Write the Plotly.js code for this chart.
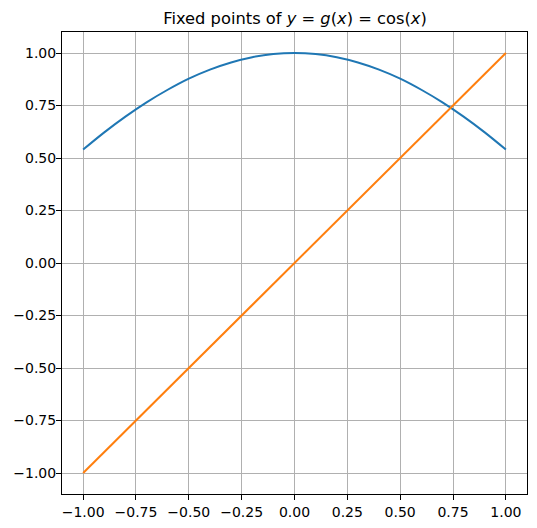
<!DOCTYPE html>
<html>
<head>
<meta charset="utf-8">
<script src="https://cdn.plot.ly/plotly-3.0.1.min.js"></script>
<style>html,body{margin:0;padding:0;background:#fff;}#chart{width:537px;height:528px;}</style>
</head>
<body>
<div id="chart"></div>
<script>
const gX = [-1.0,-0.9,-0.8,-0.7,-0.6,-0.5,-0.4,-0.3,-0.2,-0.1,0.0,0.1,0.2,0.3,0.4,0.5,0.6,0.7,0.8,0.9,1.0];
const gY = [0.540,0.622,0.697,0.765,0.825,0.878,0.921,0.955,0.980,0.995,1.000,0.995,0.980,0.955,0.921,0.878,0.825,0.765,0.697,0.622,0.540];
const idX = [-1.0, 1.0];
const idY = [-1.0, 1.0];
const tickVals = [-1.0,-0.75,-0.5,-0.25,0,0.25,0.5,0.75,1.0];
const tickText = ["\u22121.00","\u22120.75","\u22120.50","\u22120.25","0.00","0.25","0.50","0.75","1.00"];

const axisCommon = {
  range: [-1.1, 1.1],
  tickvals: tickVals,
  ticktext: tickText,
  ticks: 'outside',
  ticklen: 5,
  tickwidth: 1,
  tickcolor: '#000',
  showline: true,
  linecolor: '#000',
  linewidth: 1,
  mirror: true,
  showgrid: true,
  gridcolor: '#b0b0b0',
  gridwidth: 1,
  zeroline: false,
  tickfont: {family: 'DejaVu Sans', size: 14, color: '#000'}
};

const data = [
  {x: gX, y: gY, type: 'scatter', mode: 'lines', line: {color: '#1f77b4', width: 2, shape: 'spline'}},
  {x: idX, y: idY, type: 'scatter', mode: 'lines', line: {color: '#ff7f0e', width: 2}}
];

const layout = {
  width: 537, height: 528,
  margin: {l: 62, r: 10, t: 32, b: 34},
  paper_bgcolor: '#fff', plot_bgcolor: '#fff',
  showlegend: false,
  title: {
    text: 'Fixed points of <i>y</i> = <i>g</i>(<i>x</i>) = cos(<i>x</i>)',
    font: {family: 'DejaVu Sans', size: 16.3, color: '#000'},
    x: 295/537, xanchor: 'center',
    xref: 'container',
    yref: 'container', y: 1 - 18/528, yanchor: 'middle'
  },
  xaxis: Object.assign({}, axisCommon),
  yaxis: Object.assign({}, axisCommon, {ticklabelstandoff: -3})
};

Plotly.newPlot('chart', data, layout, {displayModeBar: false, staticPlot: true});
</script>
</body>
</html>
